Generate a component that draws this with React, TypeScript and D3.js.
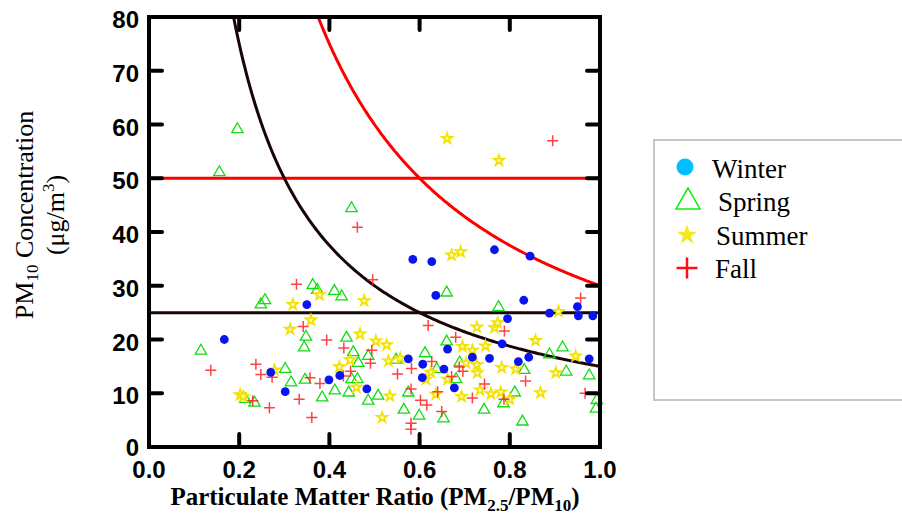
import React from 'react';
import * as d3 from 'd3';

// [ratio PM2.5/PM10, PM10 ug/m3]
const winter: [number, number][] = [
  [0.167, 20.0], [0.35, 26.5], [0.27, 13.9], [0.302, 10.3], [0.585, 34.9], [0.627, 34.5],
  [0.636, 28.2], [0.423, 13.3], [0.399, 12.5], [0.483, 10.8], [0.575, 16.4], [0.607, 15.4],
  [0.654, 14.5], [0.606, 12.9], [0.766, 36.7], [0.845, 35.5], [0.831, 27.3], [0.795, 23.9],
  [0.888, 24.9], [0.95, 26.1], [0.952, 24.4], [0.984, 24.4], [0.662, 18.2], [0.783, 19.2],
  [0.976, 16.4], [0.717, 16.7], [0.755, 16.5], [0.819, 15.9], [0.842, 16.7], [0.677, 11.0],
];

const spring: [number, number][] = [
  [0.156, 51.1], [0.196, 59.1], [0.449, 44.4], [0.257, 27.3], [0.248, 26.5], [0.115, 17.9],
  [0.348, 20.5], [0.344, 18.5], [0.302, 14.5], [0.315, 12.0], [0.346, 12.5], [0.213, 8.9],
  [0.234, 8.2], [0.363, 30.1], [0.373, 29.2], [0.411, 29.0], [0.427, 28.0], [0.66, 28.7],
  [0.438, 20.3], [0.453, 17.6], [0.486, 16.9], [0.464, 15.6], [0.548, 16.2], [0.612, 17.4],
  [0.638, 14.5], [0.449, 12.6], [0.462, 12.6], [0.412, 10.5], [0.443, 10.1], [0.384, 9.2],
  [0.508, 9.5], [0.486, 8.6], [0.575, 10.1], [0.565, 6.9], [0.599, 5.8], [0.653, 5.3],
  [0.775, 26.0], [0.66, 19.6], [0.917, 18.5], [0.888, 17.2], [0.689, 15.7], [0.832, 14.3],
  [0.925, 14.0], [0.976, 13.3], [0.681, 12.6], [0.811, 10.1], [0.786, 8.1], [0.743, 6.9],
  [0.828, 4.7], [0.993, 8.7], [0.991, 7.1],
];

const summer: [number, number][] = [
  [0.661, 57.4], [0.776, 53.3], [0.319, 26.5], [0.313, 21.9], [0.278, 14.3], [0.202, 9.7],
  [0.209, 9.4], [0.378, 28.3], [0.477, 27.2], [0.359, 23.6], [0.468, 21.0], [0.503, 19.7],
  [0.527, 19.0], [0.446, 16.2], [0.422, 14.9], [0.531, 16.0], [0.557, 16.5], [0.625, 13.9],
  [0.614, 12.6], [0.46, 11.1], [0.534, 9.5], [0.662, 12.6], [0.636, 9.8], [0.517, 5.5],
  [0.671, 35.7], [0.691, 36.3], [0.908, 25.2], [0.727, 22.3], [0.766, 22.2], [0.773, 23.1],
  [0.857, 19.8], [0.695, 18.7], [0.717, 18.0], [0.746, 18.8], [0.946, 16.9], [0.703, 15.6],
  [0.727, 15.3], [0.728, 13.8], [0.782, 14.8], [0.813, 14.5], [0.902, 13.8], [0.693, 9.4],
  [0.734, 10.6], [0.758, 9.9], [0.78, 10.2], [0.8, 8.9], [0.868, 10.1],
];

const fall: [number, number][] = [
  [0.895, 57.0], [0.462, 40.9], [0.327, 30.3], [0.342, 22.4], [0.137, 14.3], [0.237, 15.4],
  [0.248, 13.5], [0.273, 13.0], [0.23, 8.6], [0.267, 7.3], [0.333, 8.9], [0.496, 31.1],
  [0.619, 22.6], [0.394, 19.9], [0.432, 18.4], [0.494, 18.0], [0.491, 15.6], [0.447, 14.1],
  [0.627, 15.9], [0.582, 14.6], [0.551, 13.6], [0.431, 13.2], [0.357, 12.9], [0.379, 11.8],
  [0.581, 10.8], [0.602, 8.7], [0.616, 7.8], [0.64, 10.3], [0.649, 6.6], [0.581, 4.4],
  [0.581, 3.3], [0.361, 5.5], [0.957, 27.7], [0.788, 21.6], [0.68, 20.4], [0.688, 14.9],
  [0.696, 14.1], [0.835, 12.3], [0.671, 13.1], [0.717, 9.1], [0.744, 11.7], [0.787, 8.9],
  [0.967, 10.0],
];

const xTicks = [0, 0.2, 0.4, 0.6, 0.8, 1.0];
const yTicks = [0, 10, 20, 30, 40, 50, 60, 70, 80];

// PM2.5 levels drawn as PM10 = PM2.5 / ratio, and PM10 limits as flat lines
const pm25Levels = [15, 30];
const pm10Limits = [25, 50];
const levelColors = ['#1a0505', '#ff0000'];

const SERIF = '"Liberation Serif", "Times New Roman", serif';
const SANS = '"Liberation Sans", Arial, sans-serif';

const plus = (x: number, y: number, h: number) => `M${x - h},${y}H${x + h}M${x},${y - h}V${y + h}`;

export default function App() {
  const x = d3.scaleLinear().domain([0, 1]).range([149, 600]);
  const y = d3.scaleLinear().domain([0, 80]).range([447, 17]);

  const line = d3.line<[number, number]>().x((d) => x(d[0])).y((d) => y(d[1]));
  const curve = (k: number) => {
    const pts: [number, number][] = [];
    const start = k / 80;
    for (let i = 0; i <= 200; i++) {
      const r = start + ((1 - start) * i) / 200;
      pts.push([r, k / r]);
    }
    return line(pts) || '';
  };

  const tri = d3.symbol(d3.symbolTriangle, 56)() || '';
  const star = d3.symbol(d3.symbolStar, 34)() || '';
  const triL = d3.symbol(d3.symbolTriangle, 250)() || '';
  const starL = d3.symbol(d3.symbolStar, 130)() || '';

  const tickLen = 13;

  return (
    <svg width={902} height={518} style={{ position: 'absolute', left: 0, top: 0 }}>
      <rect width={902} height={518} fill="#fff" />

      {/* reference lines */}
      {pm10Limits.map((v, i) => (
        <line key={'h' + v} x1={x(0)} x2={x(1)} y1={y(v)} y2={y(v)} stroke={levelColors[i]} strokeWidth={3} />
      ))}
      {pm25Levels.map((k, i) => (
        <path key={'c' + k} d={curve(k)} fill="none" stroke={levelColors[i]} strokeWidth={3} />
      ))}

      {/* points */}
      {spring.map((d, i) => (
        <path key={'sp' + i} d={tri} transform={`translate(${x(d[0])},${y(d[1])})`} fill="none" stroke="#11dd11" strokeWidth={1.3} />
      ))}
      {summer.map((d, i) => (
        <path key={'su' + i} d={star} transform={`translate(${x(d[0])},${y(d[1])})`} fill="#fffbc0" stroke="#f2e200" strokeWidth={1.7} />
      ))}
      {fall.map((d, i) => (
        <path key={'fa' + i} d={plus(x(d[0]), y(d[1]), 5.5)} stroke="#ff2020" strokeWidth={1.5} strokeOpacity={0.85} />
      ))}
      {winter.map((d, i) => (
        <circle key={'wi' + i} cx={x(d[0])} cy={y(d[1])} r={4.4} fill="#0a14ee" />
      ))}

      {/* frame and ticks */}
      <rect x={x(0)} y={y(80)} width={x(1) - x(0)} height={y(0) - y(80)} fill="none" stroke="#000" strokeWidth={4} />
      {xTicks.slice(1, -1).map((t) => (
        <g key={'xt' + t} stroke="#000" strokeWidth={4} strokeLinecap="round">
          <line x1={x(t)} x2={x(t)} y1={y(0)} y2={y(0) - tickLen} />
          <line x1={x(t)} x2={x(t)} y1={y(80)} y2={y(80) + tickLen} />
        </g>
      ))}
      {yTicks.slice(1, -1).map((t) => (
        <g key={'yt' + t} stroke="#000" strokeWidth={4} strokeLinecap="round">
          <line x1={x(0)} x2={x(0) + tickLen} y1={y(t)} y2={y(t)} />
          <line x1={x(1)} x2={x(1) - tickLen} y1={y(t)} y2={y(t)} />
        </g>
      ))}

      {/* tick labels */}
      {xTicks.map((t) => (
        <text key={'xl' + t} x={x(t)} y={478} textAnchor="middle" fontFamily={SANS} fontWeight="bold" fontSize={24}>
          {t.toFixed(1)}
        </text>
      ))}
      {yTicks.map((t) => (
        <text key={'yl' + t} x={139} y={y(t) + (t === 0 ? 9 : 11)} textAnchor="end" fontFamily={SANS} fontWeight="bold" fontSize={24}>
          {t}
        </text>
      ))}

      {/* axis titles */}
      <text x={375} y={505} textAnchor="middle" fontFamily={SERIF} fontWeight="bold" fontSize={25}>
        Particulate Matter Ratio (PM<tspan fontSize={17} dy={6}>2.5</tspan>
        <tspan dy={-6}>/PM</tspan>
        <tspan fontSize={17} dy={6}>10</tspan>
        <tspan dy={-6}>)</tspan>
      </text>
      <g transform="translate(33,215) rotate(-90)">
        <text x={0} y={0} textAnchor="middle" fontFamily={SERIF} fontSize={26}>
          PM<tspan fontSize={17} dy={5}>10</tspan>
          <tspan dy={-5}> Concentration</tspan>
        </text>
        <text x={0} y={31} textAnchor="middle" fontFamily={SERIF} fontSize={26}>
          (μg/m<tspan fontSize={17} dy={-10}>3</tspan>
          <tspan dy={10}>)</tspan>
        </text>
      </g>

      {/* legend */}
      <rect x={654} y={140} width={260} height={260} fill="#fff" stroke="#c6c6c6" strokeWidth={2} />
      <circle cx={685} cy={167} r={8.5} fill="#00bfff" />
      <text x={712} y={178} fontFamily={SERIF} fontSize={27}>Winter</text>
      <path d={triL} transform="translate(688,202)" fill="none" stroke="#11ee11" strokeWidth={1.6} />
      <text x={718} y={211} fontFamily={SERIF} fontSize={27}>Spring</text>
      <path d={starL} transform="translate(687,235)" fill="#f2e81c" />
      <text x={716} y={245} fontFamily={SERIF} fontSize={27}>Summer</text>
      <path d={plus(687, 268, 10.5)} stroke="#ff1010" strokeWidth={2.5} />
      <text x={715} y={278} fontFamily={SERIF} fontSize={27}>Fall</text>
    </svg>
  );
}
